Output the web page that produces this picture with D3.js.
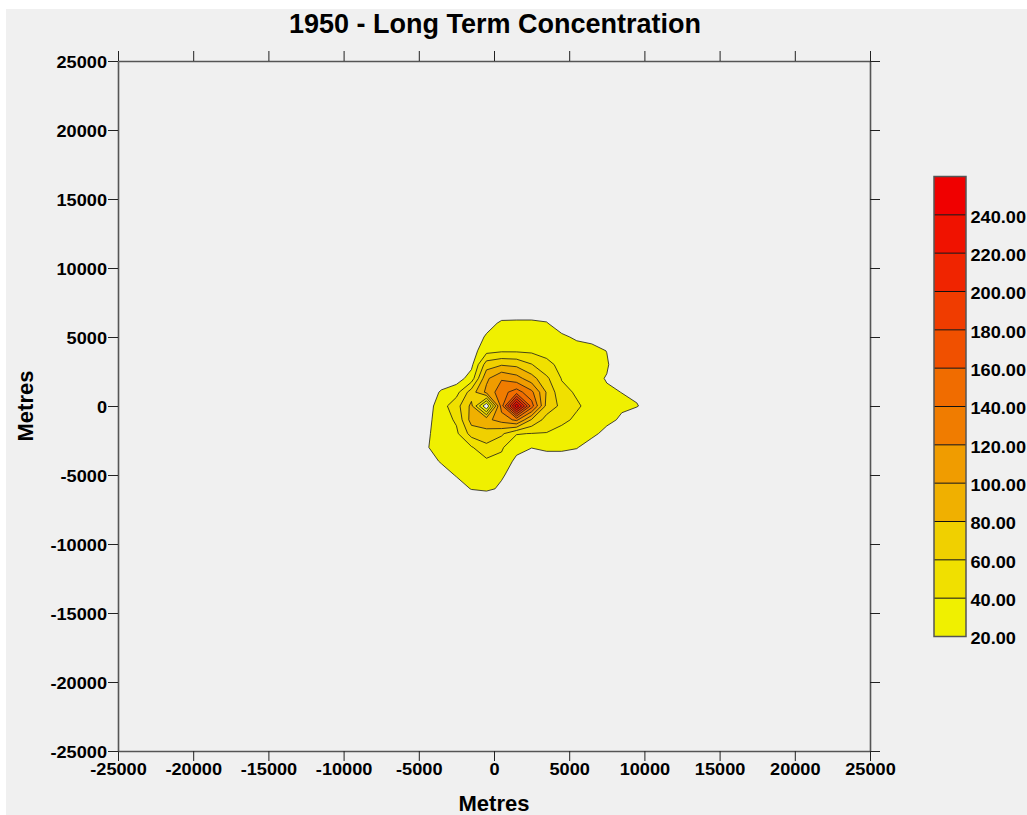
<!DOCTYPE html>
<html><head><meta charset="utf-8">
<script src="https://cdn.jsdelivr.net/npm/d3@7"></script>
<style>
html,body{margin:0;padding:0;background:#ffffff;}
svg{display:block;}
</style></head><body>
<svg id="chart" width="1027" height="815"></svg>
<script>
// ---------------- data ----------------
const titleText = "1950 - Long Term Concentration";
const axisTitle = "Metres";
const axisTicks = [-25000,-20000,-15000,-10000,-5000,0,5000,10000,15000,20000,25000];
const levels = [20,40,60,80,100,120,140,160,180,200,220,240];
const levelTop = 260;
const levelColors = ["#f0f000","#f0e000","#f0d000","#f0b000","#f09c00","#f07c00",
                     "#f06c00","#f05000","#f03c00","#f02400","#f01200","#f00000"];
// grid node coordinates (metres)
const gridX = [-5500,-4500,-3500,-2500,-1500,-500,500,1500,2500,3500,4500,5500,6500,7500,8500,9500,10500];
const gridY = [7000,6000,5000,4000,3000,2000,1000,0,-1000,-2000,-3000,-4000,-5000,-6000,-7000];
// concentration at grid nodes, one row per gridY value
const concentration = [
  [0,0,0,0,0,0,0,0,0,0,0,0,0,0,0,0,0],
  [0,0,0,0,0,8,25,26,26,22,0,0,0,0,0,0,0],
  [0,0,0,0,0,24,30,32,32,30,27,14,12,0,0,0,0],
  [0,0,0,0,11,33,37,37,36,35,34,36,28,19.5,0,0,0],
  [0,0,0,0,15,70,78,75,61,44,36,28,26,23,0,0,0],
  [0,0,0,10,29,96,118,108,88,64,39,32,27,18.5,0,0,0],
  [0,0,24,33,70,105,132,150,125,78,45,38,30,23,19.7,16.5,0],
  [0,9,32,52,85,0,130,255,150,73,55,42,35,30,24.4,21,11.7],
  [0,14,30,43,88,95,108,125,78,52,44,37,31,28,15.4,7.3,0],
  [0,17,28,36,68,72,64,41,39.5,39,34,30,28,10,0,0,0],
  [0,19,25,30,38,55,42,28,21,28,28,22,4,0,0,0,0],
  [0,11,22,28,32,36,36,14,0,0,0,0,0,0,0,0,0],
  [0,0,11,21.5,28,30,22,13,0,0,0,0,0,0,0,0,0],
  [0,0,0,10,21,24,17,0,0,0,0,0,0,0,0,0,0],
  [0,0,0,0,0,0,0,0,0,0,0,0,0,0,0,0,0]
];

// ---------------- drawing ----------------
const svg = d3.select("#chart");
svg.append("rect").attr("x",6).attr("y",9).attr("width",1021).attr("height",806).attr("fill","#f0f0f0");

const x = d3.scaleLinear().domain([-25000,25000]).range([118,870]);
const y = d3.scaleLinear().domain([-25000,25000]).range([751,61]);

// contours
const nx = gridX.length, ny = gridY.length;
const values = concentration.flat();
const contours = d3.contours().size([nx,ny]).thresholds(levels)(values);
const stepX = gridX[1]-gridX[0], stepY = gridY[1]-gridY[0];
const proj = p => [x(gridX[0] + (p[0]-0.5)*stepX), y(gridY[0] + (p[1]-0.5)*stepY)];
const path = d3.geoPath();
const cg = svg.append("g");
contours.forEach((c,i)=>{
  const geom = {type:"MultiPolygon", coordinates: c.coordinates.map(poly=>poly.map(ring=>ring.map(proj)))};
  cg.append("path").attr("d", path(geom))
    .attr("fill", levelColors[i]).attr("fill-rule","evenodd")
    .attr("stroke","#1a1a1a").attr("stroke-width",0.8).attr("stroke-linejoin","round");
});

// axes
const labelFont = "Liberation Sans, Arial, sans-serif";
const stretch = 1.15;
function styleAxis(g){
  g.select(".domain").attr("stroke","#555").attr("stroke-width",1.6);
  g.selectAll(".tick line").attr("stroke","#222").attr("stroke-width",1);
  g.selectAll(".tick text").attr("fill","#000").style("font-family",labelFont)
    .style("font-weight","bold").style("font-size","15.8px");
}
const fmt = d => String(d);
const gb = svg.append("g").attr("transform","translate(0,751)")
  .call(d3.axisBottom(x).tickValues(axisTicks).tickSize(10).tickSizeOuter(0).tickPadding(3).tickFormat(fmt))
  .call(styleAxis);
gb.selectAll(".tick text").attr("transform",`scale(${stretch},1)`);
svg.append("g").attr("transform","translate(0,61)")
  .call(d3.axisTop(x).tickValues(axisTicks).tickSize(10).tickSizeOuter(0).tickFormat(""))
  .call(styleAxis);
const gl = svg.append("g").attr("transform","translate(118,0)")
  .call(d3.axisLeft(y).tickValues(axisTicks).tickSize(10).tickSizeOuter(0).tickPadding(1).tickFormat(fmt))
  .call(styleAxis);
gl.selectAll(".tick text").attr("dy","0.40em").attr("x",-11/stretch).attr("transform",`scale(${stretch},1)`);
svg.append("g").attr("transform","translate(870,0)")
  .call(d3.axisRight(y).tickValues(axisTicks).tickSize(10).tickSizeOuter(0).tickFormat(""))
  .call(styleAxis);

// titles
svg.append("text").attr("x",495).attr("y",33).attr("text-anchor","middle")
  .style("font-family",labelFont).style("font-weight","bold").style("font-size","27px")
  .text(titleText);
svg.append("text").attr("x",494).attr("y",811).attr("text-anchor","middle")
  .style("font-family",labelFont).style("font-weight","bold").style("font-size","22px")
  .text(axisTitle);
svg.append("text").attr("transform","translate(33,406) rotate(-90)").attr("text-anchor","middle")
  .style("font-family",labelFont).style("font-weight","bold").style("font-size","22px")
  .text(axisTitle);

// legend
const ly = d3.scaleLinear().domain([levels[0], levelTop]).range([636.5, 176.5]);
const lg = svg.append("g");
const bounds = levels.concat([levelTop]);
levels.forEach((lv,i)=>{
  lg.append("rect").attr("x",934).attr("width",32)
    .attr("y", ly(bounds[i+1])).attr("height", ly(bounds[i]) - ly(bounds[i+1]))
    .attr("fill", levelColors[i]);
});
levels.slice(1).forEach(lv=>{
  lg.append("line").attr("x1",934).attr("x2",966).attr("y1",ly(lv)).attr("y2",ly(lv))
    .attr("stroke","#111").attr("stroke-width",1);
});
lg.append("rect").attr("x",934).attr("y",ly(levelTop)).attr("width",32)
  .attr("height", ly(levels[0]) - ly(levelTop)).attr("fill","none")
  .attr("stroke","#555").attr("stroke-width",1.5);
const lfmt = d3.format(".2f");
levels.forEach(lv=>{
  lg.append("text").attr("transform",`translate(970.5,${ly(lv) + 7.8}) scale(${stretch},1)`)
    .style("font-family",labelFont).style("font-weight","bold").style("font-size","15.8px")
    .text(lfmt(lv));
});
</script>
</body></html>
